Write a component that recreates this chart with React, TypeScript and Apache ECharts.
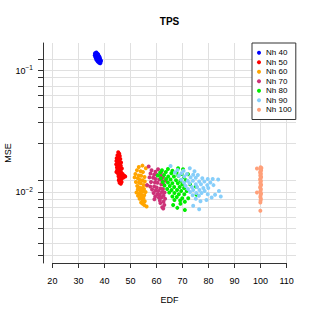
import React, { useEffect, useRef } from "react";
import * as echarts from "echarts";

const SERIES_NAMES = ["Nh 40", "Nh 50", "Nh 60", "Nh 70", "Nh 80", "Nh 90", "Nh 100"];
const SERIES_COLORS = ["#0000FF", "#FF0000", "#FFA500", "#CD3278", "#00EE00", "#87CEFA", "#FFA07A"];

const X_TICKS = [20, 30, 40, 50, 60, 70, 80, 90, 100, 110];
const Y_TICKS = [0.003, 0.00375, 0.005, 0.00625, 0.0075, 0.00875, 0.01, 0.0125, 0.025, 0.0375, 0.05, 0.0625, 0.075, 0.0875, 0.1, 0.125];
const Y_LABELS = [0.01, 0.1];
const X_MIN = 16.4;
const X_MAX = 113.6;
const Y_MIN = 0.002599;
const Y_MAX = 0.16918;

const NH40: number[][] = [
  [36.4, 0.139], [36.9, 0.141], [37.3, 0.138], [37.6, 0.136], [36.3, 0.134], [36.8, 0.136], [37.2, 0.133], [37.7, 0.133],
  [38.0, 0.131], [36.5, 0.130], [37.0, 0.130], [37.4, 0.129], [37.9, 0.128], [38.2, 0.128], [36.7, 0.127], [37.2, 0.125],
  [37.6, 0.126], [38.0, 0.124], [38.3, 0.125], [36.9, 0.123], [37.4, 0.122], [37.8, 0.121], [38.2, 0.121], [38.6, 0.122],
  [37.4, 0.119], [37.9, 0.118], [38.3, 0.118], [38.6, 0.119], [38.0, 0.116], [38.4, 0.115],
];
const NH50: number[][] = [
  [45.3, 0.0213], [45.7, 0.0207], [45.0, 0.0201], [45.9, 0.0198], [45.4, 0.0194], [44.7, 0.0190], [46.1, 0.0187], [45.2, 0.0184],
  [44.6, 0.0180], [45.8, 0.0178], [46.4, 0.0175], [45.0, 0.0172], [44.5, 0.0169], [45.6, 0.0168], [46.3, 0.0165], [45.1, 0.0162],
  [44.8, 0.0159], [46.0, 0.0158], [46.7, 0.0156], [45.4, 0.0154], [44.9, 0.0151], [46.2, 0.0150], [45.7, 0.0147], [44.6, 0.0146],
  [46.5, 0.0144], [45.2, 0.0142], [47.0, 0.0141], [45.9, 0.0139], [46.6, 0.0137], [47.6, 0.0136], [48.0, 0.0134], [45.4, 0.0135],
  [46.3, 0.0132], [47.2, 0.0131], [45.7, 0.0129], [46.4, 0.0127], [45.5, 0.0125], [46.0, 0.0123], [46.6, 0.0121], [45.8, 0.0119],
  [46.3, 0.0117],
];
const NH60: number[][] = [
  [54.6, 0.0165], [53.2, 0.0161], [55.9, 0.0157], [52.5, 0.0151], [53.9, 0.0148], [54.8, 0.0146], [51.9, 0.0141], [53.2, 0.0137],
  [54.1, 0.0136], [55.4, 0.0133], [51.6, 0.0132], [52.8, 0.0130], [53.5, 0.0126], [54.6, 0.0125], [55.5, 0.0122], [52.1, 0.0121],
  [53.3, 0.0119], [54.0, 0.0118], [55.1, 0.0114], [56.3, 0.0113], [52.6, 0.0112], [53.4, 0.0109], [54.5, 0.0108], [55.2, 0.0106],
  [52.8, 0.0105], [53.9, 0.0104], [54.7, 0.0101], [55.8, 0.0100], [52.3, 0.0099], [53.5, 0.0098], [54.2, 0.0095], [55.3, 0.0094],
  [52.9, 0.0093], [54.1, 0.0091], [55.0, 0.0089], [53.5, 0.0088], [54.7, 0.0086], [55.5, 0.0084], [54.1, 0.0082], [54.7, 0.0080],
  [55.3, 0.0078], [56.2, 0.0076],
];
const NH70: number[][] = [
  [57.0, 0.0162], [60.6, 0.0154], [58.1, 0.0151], [59.6, 0.0147], [61.9, 0.0146], [57.7, 0.0142], [59.1, 0.0139], [60.2, 0.0138],
  [61.6, 0.0137], [62.5, 0.0133], [57.3, 0.0132], [58.7, 0.0131], [59.7, 0.0128], [61.1, 0.0127], [62.1, 0.0125], [63.5, 0.0124],
  [57.9, 0.0121], [59.4, 0.0120], [60.4, 0.0119], [61.8, 0.0116], [62.8, 0.0115], [56.4, 0.0114], [57.6, 0.0111], [59.1, 0.0111],
  [60.1, 0.0109], [61.5, 0.0107], [62.5, 0.0106], [58.3, 0.0105], [59.7, 0.0103], [60.7, 0.0102], [62.1, 0.0100], [63.1, 0.0099],
  [58.9, 0.0098], [60.3, 0.0096], [61.3, 0.0095], [62.7, 0.0093], [59.5, 0.0092], [60.9, 0.0090], [61.9, 0.0090], [63.3, 0.0088],
  [59.2, 0.0087], [61.3, 0.0085], [62.7, 0.0083], [61.5, 0.0081], [63.0, 0.0078], [62.2, 0.0075], [62.6, 0.0073],
];
const NH80: number[][] = [
  [62.1, 0.0151], [64.4, 0.0155], [68.3, 0.0157], [70.2, 0.0154], [66.1, 0.0150], [61.4, 0.0145], [63.6, 0.0146], [65.7, 0.0143],
  [67.7, 0.0145], [69.7, 0.0141], [72.1, 0.0140], [60.5, 0.0137], [62.9, 0.0138], [64.5, 0.0134], [66.7, 0.0134], [68.4, 0.0136],
  [70.6, 0.0132], [61.7, 0.0130], [63.7, 0.0128], [65.4, 0.0127], [67.5, 0.0125], [69.2, 0.0124], [71.3, 0.0125], [62.4, 0.0121],
  [64.4, 0.0120], [66.1, 0.0118], [68.2, 0.0118], [69.9, 0.0116], [72.9, 0.0116], [63.1, 0.0113], [65.1, 0.0112], [66.8, 0.0110],
  [68.9, 0.0110], [70.6, 0.0108], [75.1, 0.0111], [64.1, 0.0106], [65.8, 0.0104], [67.9, 0.0104], [69.5, 0.0102], [71.6, 0.0102],
  [64.9, 0.0099], [66.9, 0.0098], [68.6, 0.0096], [70.7, 0.0096], [75.4, 0.0095], [66.1, 0.0092], [67.8, 0.0091], [69.9, 0.0089],
  [72.2, 0.0089], [66.9, 0.0086], [69.1, 0.0085], [70.9, 0.0083], [66.4, 0.0078], [69.2, 0.0080], [70.9, 0.0071], [68.0, 0.0074],
];
const NH90: number[][] = [
  [65.4, 0.0164], [72.8, 0.0157], [68.1, 0.0152], [70.4, 0.0150], [74.6, 0.0148], [67.1, 0.0145], [69.6, 0.0143], [71.7, 0.0141],
  [74.1, 0.0139], [75.9, 0.0138], [68.6, 0.0136], [70.7, 0.0134], [73.1, 0.0132], [75.1, 0.0131], [77.6, 0.0130], [79.7, 0.0128],
  [81.6, 0.0128], [83.7, 0.0127], [69.5, 0.0126], [72.0, 0.0124], [74.0, 0.0124], [76.4, 0.0122], [78.4, 0.0122], [80.7, 0.0120],
  [70.6, 0.0119], [72.7, 0.0118], [75.1, 0.0116], [77.1, 0.0116], [79.5, 0.0114], [81.9, 0.0114], [71.2, 0.0112], [73.6, 0.0110],
  [75.6, 0.0110], [78.0, 0.0108], [79.9, 0.0108], [72.1, 0.0106], [74.1, 0.0104], [76.5, 0.0104], [78.5, 0.0102], [84.0, 0.0102],
  [72.9, 0.0100], [75.3, 0.0098], [77.3, 0.0098], [79.7, 0.0096], [73.9, 0.0094], [76.3, 0.0093], [81.2, 0.0090], [84.7, 0.0092],
  [75.1, 0.0088], [79.2, 0.0086], [76.9, 0.0084], [74.1, 0.0077], [76.4, 0.0072], [82.5, 0.0095],
];
const NH100: number[][] = [
  [100.0, 0.0160], [100.3, 0.0158], [98.6, 0.0156], [99.9, 0.0154], [100.2, 0.0151], [100.0, 0.0148], [99.8, 0.0145], [100.1, 0.0142],
  [100.0, 0.0139], [99.9, 0.0136], [100.2, 0.0133], [100.0, 0.0130], [99.8, 0.0127], [100.1, 0.0124], [100.0, 0.0121], [99.9, 0.0118],
  [100.2, 0.0115], [100.0, 0.0112], [99.8, 0.0109], [100.1, 0.0106], [100.0, 0.0103], [98.6, 0.0099], [99.9, 0.0100], [100.2, 0.0097],
  [100.0, 0.0094], [99.9, 0.0091], [100.1, 0.0088], [100.0, 0.0085], [99.9, 0.0082], [99.9, 0.0070],
];
const SERIES_DATA = [NH40, NH50, NH60, NH70, NH80, NH90, NH100];

const FONT = "'Liberation Sans', Arial, Helvetica, sans-serif";

export default function App() {
  const ref = useRef<HTMLDivElement>(null);
  useEffect(() => {
    if (!ref.current) return;
    const chart = echarts.init(ref.current, null, { renderer: "svg" });
    const series: any[] = SERIES_NAMES.map((name, i) => ({
      name,
      type: "scatter",
      data: SERIES_DATA[i],
      symbol: "circle",
      symbolSize: 4,
      itemStyle: { color: SERIES_COLORS[i], opacity: 1 },
      emphasis: { disabled: true },
      clip: i === 0 ? false : true,
      z: 3,
    }));
    series[0].markLine = {
      silent: true,
      symbol: ["none", "none"],
      label: { show: false },
      lineStyle: { color: "#333", type: "solid", width: 1 },
      data: [[{ coord: [X_TICKS[0], Y_MIN] }, { coord: [X_TICKS[X_TICKS.length - 1], Y_MIN] }]],
    };
    chart.setOption({
      animation: false,
      backgroundColor: "#ffffff",
      textStyle: { fontFamily: FONT },
      title: {
        text: "TPS",
        left: 169.5,
        top: 16,
        padding: 0,
        textAlign: "center",
        textStyle: { fontSize: 10, fontWeight: "bold", color: "#000", fontFamily: FONT },
      },
      legend: {
        data: SERIES_NAMES,
        orient: "vertical",
        left: 252,
        top: 43,
        padding: [5, 4, 5, 5],
        itemGap: 0,
        itemWidth: 4,
        itemHeight: 4,
        icon: "circle",
        borderColor: "#333",
        borderWidth: 1,
        borderRadius: 0,
        backgroundColor: "#fff",
        textStyle: { fontSize: 8, color: "#000", fontFamily: FONT, lineHeight: 9.5 },
        selectedMode: false,
      },
      grid: { left: 43, right: 22, top: 43, bottom: 55, containLabel: false, outerBoundsMode: "none" },
      xAxis: {
        type: "value",
        min: X_MIN,
        max: X_MAX,
        name: "EDF",
        nameLocation: "middle",
        nameGap: 32,
        nameMoveOverlap: false,
        nameTextStyle: { fontSize: 9, color: "#000", fontFamily: FONT },
        axisLine: { show: false },
        axisTick: { show: true, length: 5, customValues: X_TICKS, lineStyle: { color: "#333" } },
        axisLabel: { customValues: X_TICKS, fontSize: 9, color: "#000", margin: 13, fontFamily: FONT },
        splitLine: { show: true, lineStyle: { color: "#e0e0e0", width: 1 } },
      },
      yAxis: {
        type: "log",
        logBase: 10,
        min: Y_MIN,
        max: Y_MAX,
        name: "MSE",
        nameLocation: "middle",
        nameGap: 31,
        nameMoveOverlap: false,
        nameTextStyle: { fontSize: 9, color: "#000", fontFamily: FONT },
        axisLine: { show: true, lineStyle: { color: "#333", width: 1 } },
        axisTick: { show: true, length: 5, customValues: Y_TICKS, lineStyle: { color: "#333" } },
        axisLabel: {
          customValues: Y_LABELS,
          margin: 10,
          color: "#000",
          fontSize: 9,
          fontFamily: FONT,
          formatter: (v: number) => "10{s|−" + Math.round(-Math.log10(v)) + "}",
          rich: { s: { fontSize: 6.5, verticalAlign: "top", padding: [0, 0, 6, 0], color: "#000", fontFamily: FONT } },
        },
        splitLine: { show: true, lineStyle: { color: "#e0e0e0", width: 1 } },
      },
      series,
    });
    return () => chart.dispose();
  }, []);
  return <div ref={ref} style={{ position: "fixed", left: 0, top: 0, width: 318, height: 318 }} />;
}
